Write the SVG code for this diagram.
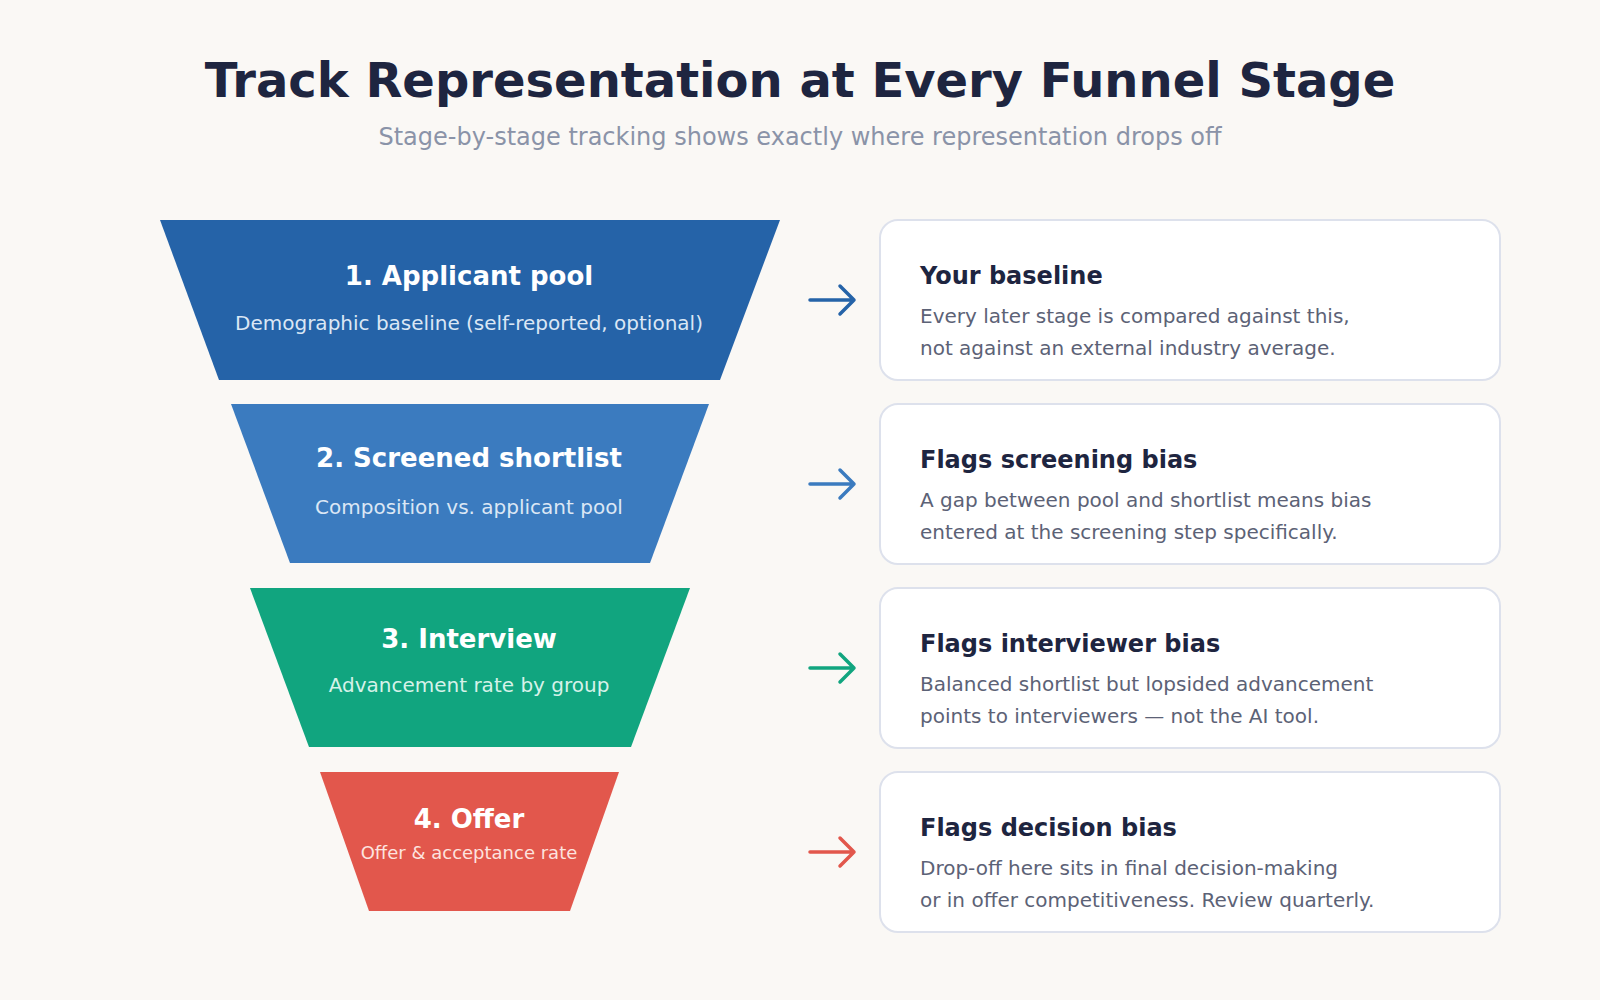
<svg xmlns="http://www.w3.org/2000/svg" width="1600" height="1000" viewBox="0 0 1600 1000">
<style>
text{font-family:"DejaVu Sans","Noto Sans",sans-serif}
.ft{font-size:26px;font-weight:bold;fill:#fff;text-anchor:middle}
.fs{font-size:20px;fill:#dbe7f5;text-anchor:middle}
.card{fill:#fff;stroke:#dde1ec;stroke-width:2}
.ct{font-size:24px;font-weight:bold;fill:#1e2540}
.cb{font-size:20px;fill:#5c6276}
.ar{fill:none;stroke-width:3.5;stroke-linecap:round;stroke-linejoin:round}
</style>
<rect width="1600" height="1000" fill="#faf8f5"/>
<text x="800" y="97" text-anchor="middle" font-size="48" font-weight="bold" fill="#1e2540">Track Representation at Every Funnel Stage</text>
<text x="800" y="145" text-anchor="middle" font-size="24" fill="#8a93a8">Stage-by-stage tracking shows exactly where representation drops off</text>
<g id="stage1"><polygon points="160,220 780,220 720,380 219,380" fill="#2563a8"/><text class="ft" x="469" y="285">1. Applicant pool</text><text class="fs" x="469" y="330">Demographic baseline (self-reported, optional)</text></g>
<g id="stage2"><polygon points="231,404 709,404 650,563 290,563" fill="#3b7bbf"/><text class="ft" x="469" y="467">2. Screened shortlist</text><text class="fs" x="469" y="514">Composition vs. applicant pool</text></g>
<g id="stage3"><polygon points="250,588 690,588 631,747 309,747" fill="#11a57f"/><text class="ft" x="469" y="648">3. Interview</text><text class="fs" x="469" y="692" fill="#d6f2e9" style="fill:#d6f2e9">Advancement rate by group</text></g>
<g id="stage4"><polygon points="320,772 619,772 570,911 369,911" fill="#e2574c"/><text class="ft" x="469" y="828">4. Offer</text><text class="fs" x="469" y="859" style="font-size:18px;fill:#fde3df">Offer &amp; acceptance rate</text></g>
<g id="card1"><rect class="card" x="880" y="220" width="620" height="160" rx="18"/><text class="ct" x="920" y="284">Your baseline</text><text class="cb" x="920" y="323">Every later stage is compared against this,</text><text class="cb" x="920" y="355">not against an external industry average.</text></g>
<g id="card2"><rect class="card" x="880" y="404" width="620" height="160" rx="18"/><text class="ct" x="920" y="468">Flags screening bias</text><text class="cb" x="920" y="507">A gap between pool and shortlist means bias</text><text class="cb" x="920" y="539">entered at the screening step specifically.</text></g>
<g id="card3"><rect class="card" x="880" y="588" width="620" height="160" rx="18"/><text class="ct" x="920" y="652">Flags interviewer bias</text><text class="cb" x="920" y="691">Balanced shortlist but lopsided advancement</text><text class="cb" x="920" y="723">points to interviewers — not the AI tool.</text></g>
<g id="card4"><rect class="card" x="880" y="772" width="620" height="160" rx="18"/><text class="ct" x="920" y="836">Flags decision bias</text><text class="cb" x="920" y="875">Drop-off here sits in final decision-making</text><text class="cb" x="920" y="907">or in offer competitiveness. Review quarterly.</text></g>
<g id="connectors">
<path class="ar" stroke="#2563a8" d="M810,300H854M840,286L854,300L840,314"/>
<path class="ar" stroke="#3b7bbf" d="M810,484H854M840,470L854,484L840,498"/>
<path class="ar" stroke="#11a57f" d="M810,668H854M840,654L854,668L840,682"/>
<path class="ar" stroke="#e2574c" d="M810,852H854M840,838L854,852L840,866"/>
</g>
</svg>
